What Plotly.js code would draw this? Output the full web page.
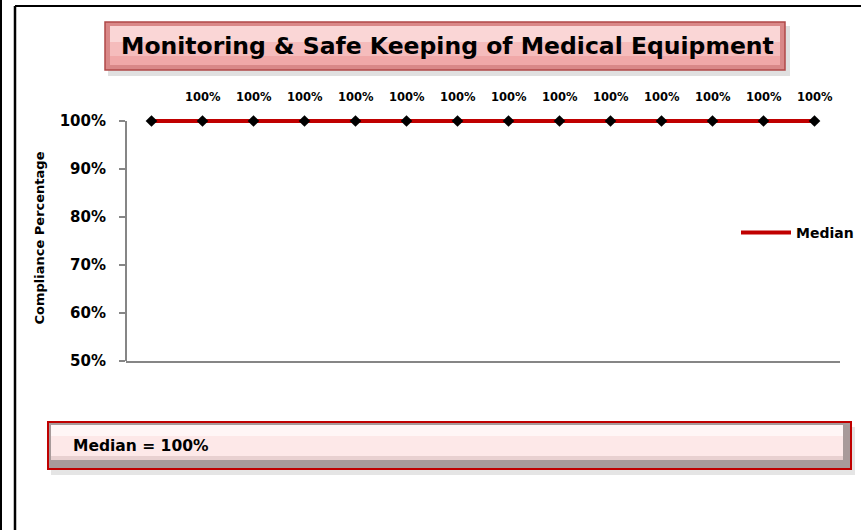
<!DOCTYPE html>
<html>
<head>
<meta charset="utf-8">
<script src="https://cdn.plot.ly/plotly-3.0.1.min.js"></script>
<style>
  html, body { margin: 0; padding: 0; background: #fff; }
  #myDiv { width: 861px; height: 530px; }
</style>
</head>
<body>
<div id="myDiv"></div>
<script>
// 14 reporting periods, axis labels not shown on the chart
var periods = ['1', '2', '3', '4', '5', '6', '7', '8', '9', '10', '11', '12', '13', '14'];
var compliance = [1, 1, 1, 1, 1, 1, 1, 1, 1, 1, 1, 1, 1, 1];
var yTicks = [0.5, 0.6, 0.7, 0.8, 0.9, 1.0];
var medianText = 'Median = 100%';
var chartTitle = 'Monitoring &amp; Safe Keeping of Medical Equipment';

function makeChart() {
  var font = '"DejaVu Sans", Verdana, sans-serif';

  // plot area in pixels: x 126..840, y 115..361 (100% sits at y=121)
  var L = 126, R = 840, T = 115, B = 361;
  function fx(px) { return (px - L) / (R - L); }
  function fy(py) { return (B - py) / (B - T); }
  function box(x0, y0, x1, y1, fill, line, lw, op) {
    return {
      type: 'rect', xref: 'paper', yref: 'paper', layer: 'below',
      x0: fx(x0), x1: fx(x1), y0: fy(y1), y1: fy(y0),
      fillcolor: fill, opacity: op === undefined ? 1 : op,
      line: { color: line || 'rgba(0,0,0,0)', width: lw || 0 }
    };
  }
  function seg(x0, y0, x1, y1, col, w) {
    return {
      type: 'line', xref: 'paper', yref: 'paper',
      x0: fx(x0), x1: fx(x1), y0: fy(y0), y1: fy(y1),
      line: { color: col, width: w }
    };
  }

  var data = [];

  // the median line (this one carries the legend entry)
  data.push({
    type: 'scatter',
    x: periods,
    y: compliance,
    mode: 'lines',
    name: 'Median',
    line: { color: '#c00000', width: 4 },
    hoverinfo: 'skip'
  });

  // diamond markers on top
  data.push({
    type: 'scatter',
    x: periods,
    y: compliance,
    mode: 'markers',
    showlegend: false,
    marker: { symbol: 'diamond', size: 9, color: '#000000' },
    cliponaxis: false
  });

  // data labels above the points
  var labels = [];
  for (var i = 0; i < periods.length; i++) {
    labels.push({
      x: periods[i], y: compliance[i], xref: 'x', yref: 'y',
      text: '<b>' + Math.round(compliance[i] * 100) + '%</b>',
      showarrow: false, yshift: 24, yanchor: 'middle',
      font: { family: font, size: 11.5, color: '#000' }
    });
  }

  // title box text
  labels.push({
    xref: 'paper', yref: 'paper', x: fx(447), y: fy(46),
    xanchor: 'center', yanchor: 'middle',
    text: '<b>' + chartTitle + '</b>', showarrow: false,
    font: { family: font, size: 23.5, color: '#000' }
  });
  // median box text
  labels.push({
    xref: 'paper', yref: 'paper', x: fx(71), y: fy(446),
    xanchor: 'left', yanchor: 'middle',
    text: '<b>' + medianText + '</b>', showarrow: false,
    font: { family: font, size: 15.5, color: '#000' }
  });

  var shapes = [
    // outer frame
    seg(1, 0, 1, 530, '#000', 2),
    seg(15, 6, 15, 530, '#000', 2.5),
    seg(15, 6, 861, 6, '#000', 2),
    // y axis line, only up to 100%
    {
      type: 'line', xref: 'paper', yref: 'y', x0: 0, x1: 0, y0: 0.5, y1: 1.0,
      line: { color: '#868686', width: 2 }
    },
    // title box: shadow, bevel and face
    box(108, 26, 790, 76, '#999999', null, 0, 0.3),
    box(105, 22, 785, 70, '#d98888', '#b04848', 1.5),
    box(110, 26, 780, 65, '#f0a8a8'),
    box(110, 26, 780, 56, '#f5bcbc'),
    box(110, 26, 780, 42, '#fad6d6'),
    // median box: shadow, bevel and face
    box(51, 427, 855, 475, '#aaaaaa', null, 0, 0.3),
    box(48, 422, 851, 469, '#a89a9a', '#c00000', 2),
    box(51, 425, 843, 460, '#e8d0d0'),
    box(51, 425, 843, 456, '#fde8e8'),
    box(51, 425, 843, 436, '#fff6f6')
  ];

  var layout = {
    width: 861,
    height: 530,
    margin: { l: L, r: 861 - R, t: T, b: 530 - B, autoexpand: false },
    paper_bgcolor: '#ffffff',
    plot_bgcolor: '#ffffff',
    font: { family: font, color: '#000' },
    showlegend: true,
    legend: {
      x: fx(736), y: fy(233), xanchor: 'left', yanchor: 'middle',
      bgcolor: 'rgba(0,0,0,0)',
      font: { family: font, size: 14, color: '#000', weight: 'bold' },
      itemwidth: 50
    },
    xaxis: {
      type: 'category',
      range: [-0.5, periods.length - 0.5],
      showticklabels: false,
      ticks: '',
      showgrid: false,
      zeroline: false,
      showline: true,
      linecolor: '#868686',
      linewidth: 2,
      fixedrange: true
    },
    yaxis: {
      range: [0.5, 1.0125],
      tickvals: yTicks,
      tickformat: '.0%',
      ticks: 'outside',
      ticklen: 6,
      tickwidth: 2,
      tickcolor: '#868686',
      ticklabelstandoff: 10,
      showgrid: false,
      zeroline: false,
      showline: false,
      tickfont: { family: font, size: 15, color: '#000', weight: 'bold' },
      title: {
        text: 'Compliance Percentage',
        font: { family: font, size: 13, color: '#000', weight: 'bold' },
        standoff: 12
      },
      fixedrange: true
    },
    shapes: shapes,
    annotations: labels
  };

  Plotly.newPlot('myDiv', data, layout, { displayModeBar: false, staticPlot: true });
}

makeChart();
</script>
</body>
</html>
